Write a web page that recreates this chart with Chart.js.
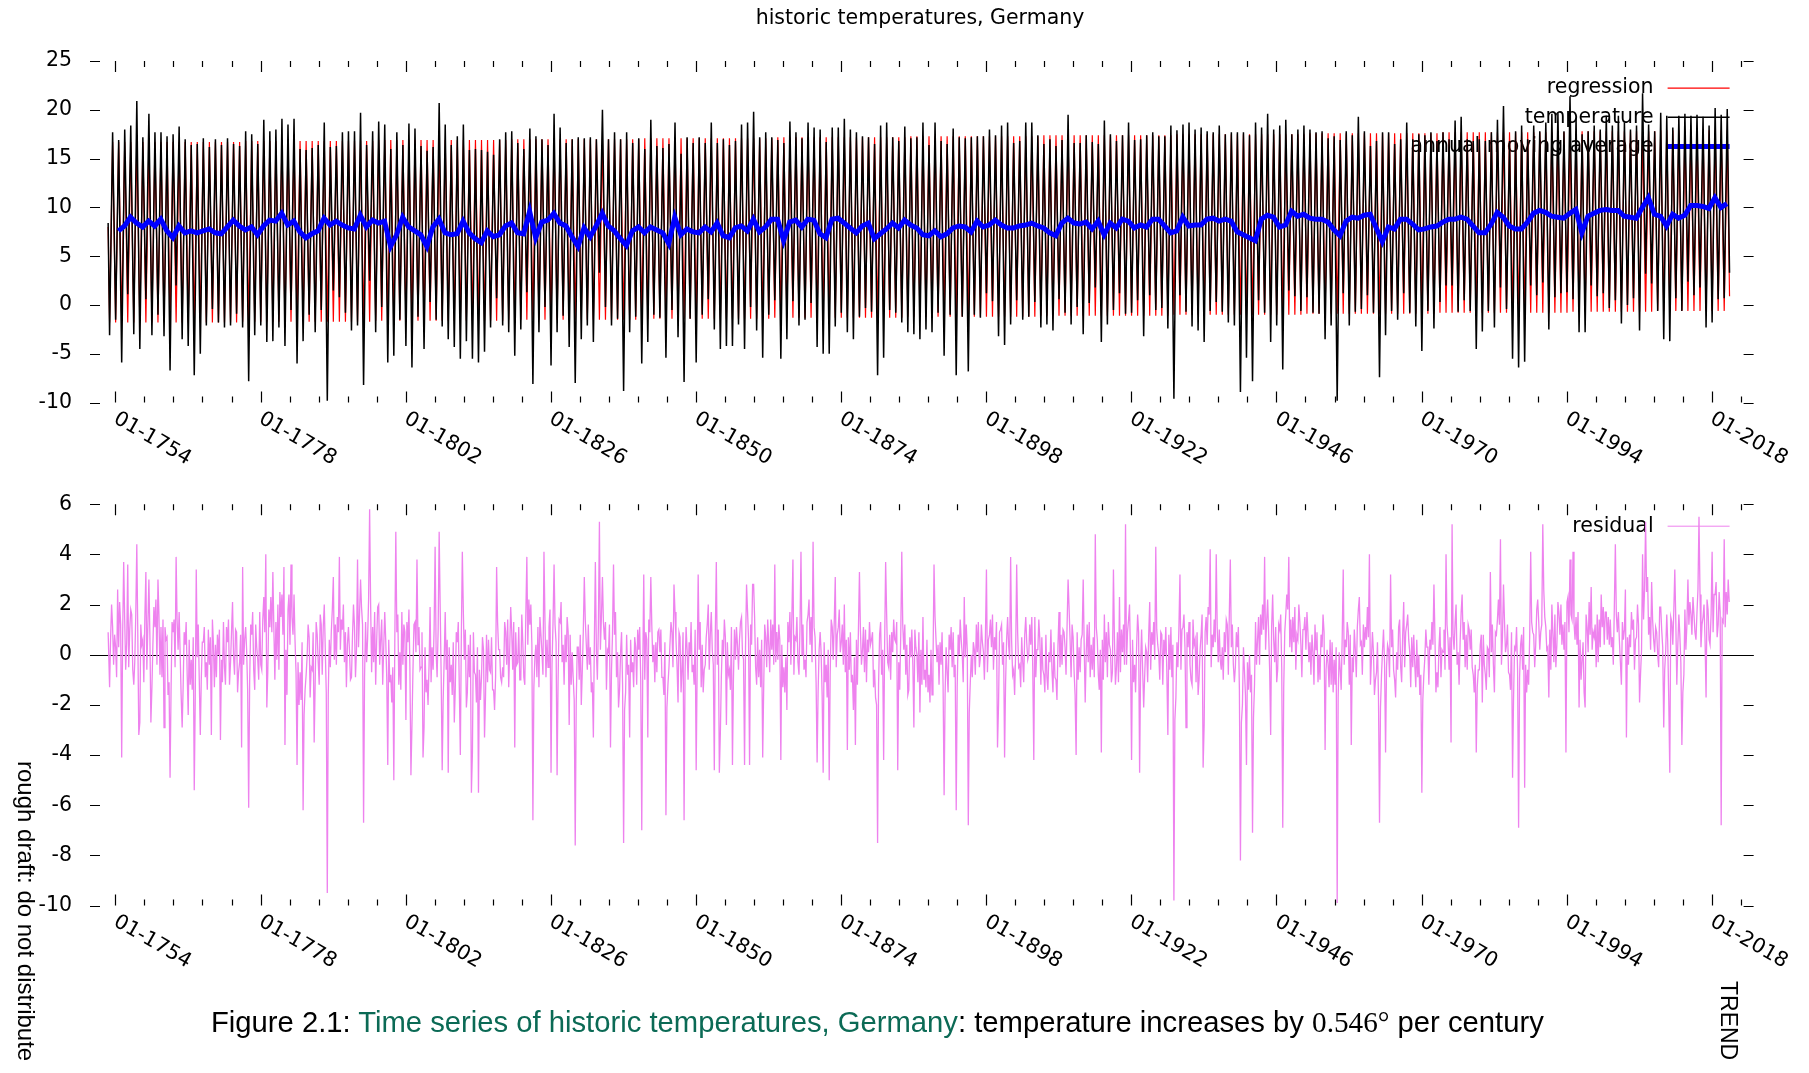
<!DOCTYPE html>
<html><head><meta charset="utf-8">
<script src="https://cdn.jsdelivr.net/npm/chart.js@4/dist/chart.umd.min.js"></script>
<style>
html,body{margin:0;padding:0;background:#fff;}
body{width:1809px;height:1073px;position:relative;overflow:hidden;}
canvas{position:absolute;left:0;top:0;}
.t{position:absolute;white-space:nowrap;color:#000;z-index:5;}
</style></head><body>
<canvas id="top" width="1809" height="1073"></canvas>
<canvas id="bottom" width="1809" height="1073"></canvas>
<div class="t" style="font:20.5px 'DejaVu Sans';left:0;width:1840px;text-align:center;top:5px;line-height:24px">historic temperatures, Germany</div>
<div id="caption" class="t" style="font-family:'Liberation Sans';font-size:26px;line-height:1.15;left:211px;top:1008px">Figure 2.1: <span style="color:#0b6a55">Time series of historic temperatures, Germany</span>: temperature increases by <span style="font-family:'Liberation Serif'">0.546°</span> per century</div>
<div class="t" style="font:24px 'Liberation Sans';line-height:28px;left:40px;top:761px;transform:rotate(90deg);transform-origin:0 0">rough draft: do not distribute</div>
<div class="t" style="font:23px 'Liberation Sans';line-height:27px;left:1742px;top:981px;transform:rotate(90deg);transform-origin:0 0">TREND</div>
<script>
// ---------------- data ----------------
const firstYear = 1753;
// winter (January) low of the monthly temperature, one per year 1753..2020
const winterLow = [
-3.1,-1.5,-5.9,1.1,-3.0,-4.5,0.6,-3.1,-1.0,-3.2,
-6.7,2.0,-3.5,-4.2,-7.2,-5.0,-2.1,-0.4,-1.8,-2.3,
-2.1,-0.9,-2.3,-7.8,-3.1,-2.1,-3.8,-3.7,-2.3,-4.2,
-0.5,-6.0,-3.7,-1.0,-2.8,-0.5,-9.8,1.5,0.8,-0.8,
-2.6,-2.1,-8.2,2.5,-2.8,-0.2,-5.9,-5.2,-1.5,-4.2,
-6.4,-1.2,-4.5,0.3,-1.5,-2.2,-3.5,-4.3,-5.5,-3.7,
-5.5,-5.9,-4.8,-2.3,0.7,-2.1,-2.8,-5.2,-2.5,1.3,
-8.1,-2.8,-0.2,-6.2,-2.8,-1.1,-4.3,-8.0,-3.5,-2.1,
-3.8,3.3,-0.2,-2.1,-1.4,-8.8,-2.8,-1.2,-6.0,-3.8,
-1.0,-1.3,-5.4,-0.5,-3.3,-7.9,-1.4,-5.9,-1.0,0.6,
-2.5,-4.5,-4.2,-4.2,-2.0,-4.5,-0.2,-2.6,-5.4,-1.0,
0.5,-5.5,-3.5,0.4,-2.1,-1.5,0.2,-4.3,-5.0,-5.0,
-2.2,-0.8,-2.8,-3.5,-1.2,-0.3,-0.7,-7.2,-5.4,-0.5,
-0.8,-1.8,-2.8,-3.0,-3.5,-2.5,-2.8,-0.8,-5.2,-1.0,
-7.2,-1.2,-6.8,-1.0,-1.3,1.2,0.4,-3.2,-4.1,-2.0,
0.5,-1.5,-1.2,0.3,-2.3,-2.0,-2.6,0.6,-0.8,-2.0,
-0.2,-3.0,0.2,1.8,-3.8,-2.0,-0.5,1.2,-0.9,-0.8,
0.5,-3.2,1.0,-0.5,-0.3,-2.4,-9.6,1.0,-0.7,-2.2,
-2.6,-3.8,-0.6,0.3,-0.7,-1.8,-2.1,-8.9,-5.4,-7.8,
0.5,-0.8,-3.8,-2.1,-6.6,1.5,0.9,-0.6,0.8,-0.8,
-0.9,-3.5,-2.1,-9.8,1.2,-2.1,-0.7,-0.4,1.0,-0.8,
-7.4,-3.1,-0.6,-1.5,1.2,-0.8,-2.2,-4.7,-0.6,-2.4,
0.3,2.0,2.0,-0.7,0.5,-0.6,-4.5,-2.7,-0.6,-2.3,
1.8,-0.4,-5.5,-6.4,-5.8,2.0,1.0,2.3,-2.5,0.8,
1.2,1.3,0.6,-2.8,-2.8,2.0,0.9,1.2,-0.3,0.5,
-1.9,0.0,0.7,-2.6,3.2,2.2,-0.6,-3.5,-3.7,0.7,
-0.6,2.4,1.0,1.8,-2.3,-1.8,0.6,0.7
];
// summer (July) high of the monthly temperature, one per year 1753..2020
const summerHigh = [
17.7,16.9,18.0,18.4,20.9,17.2,19.6,17.7,17.7,17.3,
17.5,18.3,17.0,16.4,16.5,17.1,16.2,17.0,16.4,17.1,
16.5,16.3,17.8,17.5,16.5,19.0,17.8,18.0,19.1,18.5,
19.1,16.0,15.9,16.1,16.4,18.7,16.2,16.3,17.7,17.8,
17.8,19.7,16.4,17.8,18.8,18.5,16.0,17.7,16.4,18.6,
18.1,16.3,15.8,16.2,20.7,18.5,16.4,17.3,18.5,15.9,
16.0,15.9,15.7,15.4,17.0,17.7,17.8,16.6,16.0,18.1,
17.3,17.0,16.4,19.6,18.2,16.6,17.0,17.2,17.1,17.2,
17.0,20.0,17.0,17.7,17.0,17.7,16.6,17.1,16.0,19.0,
16.3,16.1,16.5,18.7,15.5,17.2,16.6,17.2,16.6,18.7,
16.6,17.0,16.4,16.8,18.5,18.7,19.8,17.2,17.7,17.2,
16.9,16.6,18.8,17.7,17.1,18.7,18.2,18.0,16.7,18.2,
18.2,19.1,18.0,17.7,17.3,17.2,16.5,18.4,18.7,17.2,
16.8,18.3,17.1,17.2,18.7,16.4,18.7,16.8,16.5,18.1,
17.2,17.1,17.2,17.3,17.3,18.0,17.4,18.4,18.7,16.6,
16.8,18.7,18.7,17.4,16.5,17.0,16.3,16.9,19.5,16.6,
16.6,17.4,16.7,16.5,18.9,17.5,16.8,17.4,18.7,16.9,
17.0,17.4,17.7,17.3,17.3,18.4,17.9,18.5,18.7,18.0,
18.2,17.8,17.7,18.4,17.5,17.7,17.7,17.7,17.4,18.7,
18.2,19.6,18.0,18.4,19.0,17.5,18.0,18.4,18.0,17.7,
17.8,17.1,17.3,16.9,17.8,17.4,19.3,17.8,16.3,16.8,
17.7,17.7,16.5,17.0,18.7,17.0,17.5,17.4,17.7,16.8,
17.7,17.0,18.9,19.3,17.0,16.8,17.0,16.8,17.7,19.0,
20.4,16.8,17.8,18.4,17.0,18.4,17.8,18.7,19.6,19.7,
17.8,21.4,19.2,17.5,17.8,18.4,18.0,19.4,18.4,19.4,
18.7,18.0,18.4,21.7,18.5,17.8,19.7,19.4,18.2,19.4,
19.6,19.4,19.5,19.3,18.4,20.2,19.5,20.1
];
// seasonal regression: January value per year 1753..2020
const regressionJan = [
-1.8,-1.8,-1.8,-1.8,-1.8,-1.8,-1.8,-1.8,-1.8,-1.8,-1.8,-1.8,-1.8,-1.8,-1.8,-1.8,-1.8,-1.8,-1.8,-1.8,-1.8,-1.8,
-1.7,-1.7,-1.7,-1.7,-1.7,-1.7,-1.7,-1.7,-1.7,-1.7,-1.7,-1.7,-1.7,-1.7,-1.7,-1.7,-1.7,-1.7,-1.7,-1.7,-1.7,-1.7,
-1.6,-1.6,-1.6,-1.6,-1.6,-1.6,-1.6,-1.6,-1.6,-1.6,-1.6,-1.6,-1.6,-1.6,-1.6,-1.6,-1.6,-1.6,-1.6,-1.6,-1.6,-1.6,
-1.5,-1.5,-1.5,-1.5,-1.5,-1.5,-1.5,-1.5,-1.5,-1.5,-1.5,-1.5,-1.5,-1.5,-1.5,-1.5,-1.5,-1.5,-1.5,-1.5,-1.5,-1.5,
-1.4,-1.4,-1.4,-1.4,-1.4,-1.4,-1.4,-1.4,-1.4,-1.4,-1.4,-1.4,-1.4,-1.4,-1.4,-1.4,-1.4,-1.4,-1.4,-1.4,-1.4,-1.4,
-1.3,-1.3,-1.3,-1.3,-1.3,-1.3,-1.3,-1.3,-1.3,-1.3,-1.3,-1.3,-1.3,-1.3,-1.3,-1.3,-1.3,-1.3,-1.3,-1.3,-1.3,-1.3,
-1.2,-1.2,-1.2,-1.2,-1.2,-1.2,-1.2,-1.2,-1.2,-1.2,-1.2,-1.2,-1.2,-1.2,-1.2,-1.2,-1.2,-1.2,-1.2,-1.2,-1.2,-1.2,
-1.1,-1.1,-1.1,-1.1,-1.1,-1.1,-1.1,-1.1,-1.1,-1.1,-1.1,-1.1,-1.1,-1.1,-1.1,-1.1,-1.1,-1.1,-1.1,-1.1,-1.1,-1.1,
-1.0,-1.0,-1.0,-1.0,-1.0,-1.0,-1.0,-1.0,-1.0,-1.0,-1.0,-1.0,-1.0,-1.0,-1.0,-1.0,-1.0,-1.0,-1.0,-1.0,-1.0,-1.0,
-0.9,-0.9,-0.9,-0.9,-0.9,-0.9,-0.9,-0.9,-0.9,-0.9,-0.9,-0.9,-0.9,-0.9,-0.9,-0.9,-0.9,-0.9,-0.9,-0.9,-0.9,-0.9,
-0.8,-0.8,-0.8,-0.8,-0.8,-0.8,-0.8,-0.8,-0.8,-0.8,-0.8,-0.8,-0.8,-0.8,-0.8,-0.8,-0.8,-0.8,-0.8,-0.8,-0.8,-0.8,
-0.7,-0.7,-0.7,-0.7,-0.7,-0.7,-0.7,-0.7,-0.7,-0.7,-0.7,-0.7,-0.7,-0.7,
-0.6,-0.6,-0.6,-0.6,-0.6,-0.6,-0.6,-0.6,-0.6,-0.6,-0.6,-0.6
];
// seasonal regression: July value per year 1753..2020
const regressionJul = [
16.7,16.7,16.7,16.7,16.7,16.7,16.7,16.7,16.7,16.7,16.7,16.7,16.7,16.7,16.7,16.7,16.7,16.7,16.7,16.7,16.7,16.7,
16.8,16.8,16.8,16.8,16.8,16.8,16.8,16.8,16.8,16.8,16.8,16.8,16.8,16.8,16.8,16.8,16.8,16.8,16.8,16.8,16.8,16.8,
16.9,16.9,16.9,16.9,16.9,16.9,16.9,16.9,16.9,16.9,16.9,16.9,16.9,16.9,16.9,16.9,16.9,16.9,16.9,16.9,16.9,16.9,
17.0,17.0,17.0,17.0,17.0,17.0,17.0,17.0,17.0,17.0,17.0,17.0,17.0,17.0,17.0,17.0,17.0,17.0,17.0,17.0,17.0,17.0,
17.1,17.1,17.1,17.1,17.1,17.1,17.1,17.1,17.1,17.1,17.1,17.1,17.1,17.1,17.1,17.1,17.1,17.1,17.1,17.1,17.1,17.1,
17.2,17.2,17.2,17.2,17.2,17.2,17.2,17.2,17.2,17.2,17.2,17.2,17.2,17.2,17.2,17.2,17.2,17.2,17.2,17.2,17.2,17.2,
17.3,17.3,17.3,17.3,17.3,17.3,17.3,17.3,17.3,17.3,17.3,17.3,17.3,17.3,17.3,17.3,17.3,17.3,17.3,17.3,17.3,17.3,
17.4,17.4,17.4,17.4,17.4,17.4,17.4,17.4,17.4,17.4,17.4,17.4,17.4,17.4,17.4,17.4,17.4,17.4,17.4,17.4,17.4,17.4,
17.5,17.5,17.5,17.5,17.5,17.5,17.5,17.5,17.5,17.5,17.5,17.5,17.5,17.5,17.5,17.5,17.5,17.5,17.5,17.5,17.5,17.5,
17.6,17.6,17.6,17.6,17.6,17.6,17.6,17.6,17.6,17.6,17.6,17.6,17.6,17.6,17.6,17.6,17.6,17.6,17.6,17.6,17.6,17.6,
17.7,17.7,17.7,17.7,17.7,17.7,17.7,17.7,17.7,17.7,17.7,17.7,17.7,17.7,17.7,17.7,17.7,17.7,17.7,17.7,17.7,17.7,
17.8,17.8,17.8,17.8,17.8,17.8,17.8,17.8,17.8,17.8,17.8,17.8,17.8,17.8,
17.9,17.9,17.9,17.9,17.9,17.9,17.9,17.9,17.9,17.9,17.9,17.9
];
// annual moving average, one per year 1754..2020 (mid-year)
const avgFirstYear = 1754;
const movingAverage = [
7.6,8.1,9.0,8.4,8.0,8.6,8.1,8.8,7.6,6.9,
8.1,7.4,7.6,7.4,7.6,7.8,7.4,7.3,8.0,8.7,
8.1,7.7,8.0,7.2,8.1,8.7,8.6,9.4,8.2,8.6,
7.5,6.9,7.3,7.6,8.9,8.2,8.6,8.2,7.9,7.8,
9.2,8.0,8.7,8.4,8.6,6.0,7.2,9.0,8.0,7.6,
7.2,6.0,8.0,8.8,7.4,7.2,7.3,8.6,7.4,6.8,
6.4,7.6,7.0,7.2,8.1,8.4,7.4,7.3,9.6,6.9,
8.5,8.7,9.4,8.4,8.1,7.0,6.0,7.9,7.0,8.1,
9.4,8.1,7.6,6.8,6.1,7.6,8.0,7.4,8.0,7.7,
7.4,6.3,9.0,7.2,7.8,7.5,7.4,8.0,7.5,8.4,
7.1,6.9,7.9,8.1,7.6,8.8,7.5,8.0,8.8,8.8,
6.6,8.5,8.7,8.0,8.8,8.7,7.3,6.9,8.8,8.9,
8.4,7.9,7.4,8.1,8.4,6.8,7.3,7.8,8.4,7.9,
8.7,8.2,7.9,7.2,7.1,7.6,7.0,7.3,7.9,8.1,
8.0,7.5,8.6,8.0,8.2,8.7,8.2,7.9,7.9,8.1,
8.2,8.4,8.1,7.9,7.4,7.1,8.4,8.9,8.4,8.3,
8.5,7.8,8.6,7.2,8.4,7.9,8.8,8.6,7.9,8.2,
8.0,8.8,8.8,8.1,7.4,7.6,9.0,8.1,8.2,8.2,
8.8,8.9,8.6,8.8,8.6,7.5,7.2,6.9,6.6,8.8,
9.2,9.0,8.0,8.2,9.6,9.1,9.3,8.9,8.8,8.8,
8.5,7.7,7.1,8.6,9.0,8.9,9.2,9.3,7.9,6.5,
8.0,7.8,8.8,8.8,8.3,7.7,7.8,8.0,8.1,8.5,
8.8,8.8,9.0,8.8,8.1,7.4,7.4,8.3,9.5,9.0,
8.1,7.8,7.8,8.5,9.4,9.7,9.5,9.1,9.0,8.9,
9.4,9.8,7.4,9.1,9.4,9.7,9.8,9.7,9.7,9.1,
9.0,8.9,10.0,11.0,9.3,9.1,8.1,9.3,8.9,9.2,
10.2,10.2,10.1,9.9,11.0,10.0,10.4
];
// residual (temperature minus regression), per year [Jan, May, Jul, Nov], 1753..2020
const residual = [
[-1.3,2.0,1.1,0.8],[0.3,2.6,0.3,1.2],[-4.1,3.7,1.4,0.5],[3.6,1.0,1.8,-0.6],[-1.2,1.6,4.4,-3.2],
[-2.7,0.4,0.6,1.5],[3.3,1.2,3.0,-2.7],[-1.3,1.9,1.1,-0.4],[3.0,-0.8,1.1,1.4],[-2.9,0.6,0.7,-1.1],
[-4.9,1.3,0.9,-0.5],[3.9,0.2,1.7,-1.6],[-2.9,0.9,0.4,-0.8],[-2.4,-1.2,-0.2,0.7],[-5.4,3.4,-0.1,-1.0],
[-3.2,0.5,0.5,-0.9],[-0.3,1.0,-0.4,-3.2],[1.4,-1.3,0.4,0.8],[0.0,-3.4,-0.2,1.3],[-0.5,1.1,0.5,-1.2],
[-0.3,2.1,-0.1,1.0],[0.9,-0.7,-0.3,-3.7],[3.5,0.6,1.1,-1.4],[-6.1,1.2,0.8,-0.6],[-1.4,0.3,-0.2,1.7],
[-0.4,1.4,2.3,4.0],[-2.1,1.8,1.1,0.9],[3.3,-1.0,1.3,2.0],[-0.6,1.5,2.4,3.5],[-3.6,-1.6,1.8,0.4],
[3.6,0.8,2.4,-0.7],[-4.4,-2.0,-0.7,0.5],[-6.2,-1.4,-0.8,1.2],[0.7,-0.5,-0.6,-3.5],[-1.1,0.8,-0.3,1.6],
[1.2,1.1,2.0,-1.5],[-9.5,0.6,-0.5,1.8],[3.1,1.2,-0.4,0.9],[3.9,1.4,1.0,-0.3],[0.9,0.4,1.1,-1.0],
[-0.9,2.0,1.1,0.2],[3.8,1.6,3.0,1.2],[-6.7,1.3,-0.3,2.2],[5.8,-0.7,1.1,1.7],[-1.2,1.9,2.0,0.6],
[1.4,0.3,1.7,-0.9],[-4.4,-1.1,-0.8,-0.5],[-5.0,4.9,0.9,-1.2],[0.1,1.7,-0.4,0.9],[-2.6,0.5,1.8,-4.8],
[-2.8,1.2,1.3,3.8],[0.4,-0.6,-0.5,-4.1],[-2.9,-1.5,-1.0,-0.4],[1.9,0.3,-0.6,4.3],[0.1,1.0,4.9,-0.8],
[-4.6,-0.2,1.7,0.6],[-4.7,-1.1,-0.4,0.5],[-2.7,0.9,0.5,-1.3],[-4.0,4.1,1.7,1.0],[-2.1,0.4,-0.9,-5.5],
[-3.9,-0.7,-0.8,0.3],[-5.5,-1.8,-0.9,0.2],[-3.3,0.8,-1.1,-0.6],[-0.7,-1.4,-1.4,-0.9],[3.5,0.2,0.2,-1.1],
[-0.5,1.3,0.9,1.4],[-1.3,1.9,0.9,1.3],[-3.7,-0.4,-0.3,-1.0],[-1.0,0.5,-0.9,1.6],[3.9,2.2,1.2,0.4],
[-6.6,-0.1,0.4,1.1],[-1.3,0.8,0.1,4.1],[1.3,0.6,-0.5,1.8],[-4.7,1.3,3.6,0.5],[-4.8,1.4,1.3,-0.3],
[0.4,0.8,-0.3,0.9],[-2.8,-1.2,0.1,-1.8],[-7.6,0.3,0.3,0.8],[-2.0,0.9,3.1,0.4],[-0.6,-0.4,0.3,-1.1],
[-3.3,3.7,0.1,1.2],[5.3,1.5,3.1,0.6],[1.3,0.2,0.1,-3.7],[-0.6,3.6,0.8,-0.9],[0.1,-1.4,0.1,-1.2],
[-7.5,-1.5,0.8,-0.4],[-3.3,-0.7,-0.3,0.7],[0.3,1.0,0.2,-1.0],[-7.0,3.2,-1.0,0.6],[-3.3,0.9,3.1,-0.3],
[0.4,0.5,-0.7,1.0],[0.1,-0.9,-0.9,0.5],[-6.4,-1.2,-0.5,1.3],[0.9,2.8,1.7,-0.4],[-1.9,0.7,-1.5,0.9],
[-6.6,1.1,0.2,0.5],[0.0,-0.7,-0.4,1.0],[-4.6,3.2,0.2,-1.3],[0.4,-0.6,-0.4,1.2],[2.0,0.8,1.7,-0.4],
[-4.6,3.7,-0.4,-4.7],[-3.1,0.6,0.0,0.7],[-2.8,-0.8,-0.6,1.1],[-4.4,1.0,-0.2,0.4],[-0.6,1.3,1.5,-0.2],
[-4.4,2.8,1.7,-4.4],[1.2,2.8,2.8,-0.5],[-1.2,-0.9,0.2,0.6],[-4.1,1.2,0.7,1.4],[0.4,1.4,0.2,-0.4],
[3.6,0.9,-0.2,0.6],[-4.2,-1.3,-0.5,-0.1],[-2.2,0.5,1.7,1.6],[3.8,0.7,0.6,-0.3],[-0.8,4.1,0.0,-0.6],
[-0.2,1.3,1.6,0.4],[1.5,4.5,1.1,-1.1],[-4.3,0.2,0.9,-1.6],[-4.7,-1.1,-0.4,0.2],[-5.0,1.4,1.1,1.3],
[3.1,0.8,1.1,0.1],[0.5,-0.4,2.0,0.6],[-3.8,-0.6,0.9,-0.8],[-2.2,-3.6,0.6,1.0],[3.3,-0.4,0.2,-0.7],
[1.0,0.6,0.1,0.4],[0.6,-1.3,-0.6,-2.0],[-7.5,0.8,1.3,0.2],[-4.2,3.7,1.6,-0.5],[0.8,0.9,0.1,0.6],
[0.5,-4.6,-0.3,0.8],[4.1,0.2,1.2,0.4],[-1.6,0.7,-0.1,-0.4],[-2.9,0.3,0.0,0.9],[-2.3,-1.2,1.5,-0.6],
[-1.3,-1.5,-0.8,0.2],[-1.6,3.6,1.5,-0.3],[0.4,0.5,-0.4,-1.2],[-5.6,0.3,-0.7,0.8],[0.2,-0.5,0.9,-0.4],
[-6.2,0.8,0.0,0.6],[0.0,2.3,-0.1,0.2],[-6.8,-1.1,0.0,0.5],[0.2,1.2,0.1,-0.5],[-0.1,0.5,0.1,0.7],
[3.4,0.6,0.8,0.3],[1.6,0.7,0.2,-3.7],[-2.0,1.0,1.2,0.5],[-4.1,0.6,1.5,-0.2],[3.9,-0.8,-0.6,0.1],
[3.6,-0.5,-0.4,0.7],[-0.3,0.8,1.5,-0.2],[0.0,0.4,1.5,-4.2],[1.5,0.2,0.2,0.6],[-1.2,-0.6,-0.8,0.8],
[-0.9,0.1,-0.3,-0.6],[-1.5,-0.9,-1.0,0.4],[1.7,0.8,-0.4,0.9],[0.3,1.1,3.0,0.6],[-0.9,0.7,-0.7,-4.0],
[0.9,0.3,-0.7,0.8],[3.0,-1.9,0.1,-0.3],[1.3,0.4,-0.6,-0.9],[4.8,0.6,-0.8,0.2],[-3.9,-1.0,1.6,0.9],
[-0.9,0.4,0.2,-0.7],[3.4,-1.2,-0.5,-1.1],[2.3,1.0,0.1,-0.4],[5.2,0.9,1.4,-0.2],[-4.2,-1.1,-0.4,0.3],
[1.6,-4.7,-0.3,-0.6],[-2.1,0.3,0.1,0.8],[2.1,0.9,0.4,-0.2],[4.3,0.4,0.0,0.9],[0.8,0.6,0.0,-0.7],
[-3.2,-0.6,1.1,0.4],[-9.8,-1.7,0.5,1.1],[3.2,1.0,1.1,0.3],[-2.9,0.3,1.3,-1.0],[-1.2,0.4,0.6,0.9],
[-1.6,0.2,0.8,-4.5],[-2.8,1.5,0.4,1.6],[4.2,0.8,0.3,0.5],[4.0,-0.3,1.0,-0.6],[0.3,0.9,0.1,1.2],
[-0.8,3.8,0.3,-0.4],[-1.1,0.9,0.3,-1.4],[-8.2,-2.0,0.3,-1.6],[-4.4,-1.4,0.0,-0.8],[-7.1,-1.2,1.3,0.6],
[1.5,1.6,0.8,1.0],[3.9,1.3,2.2,-0.6],[-3.2,2.4,0.6,1.1],[-1.1,1.2,1.0,-0.5],[-6.9,0.9,1.6,1.8],
[3.9,1.4,0.1,0.5],[1.9,0.8,0.6,1.3],[0.4,1.0,1.0,0.2],[1.7,-0.3,0.5,0.8],[0.1,1.2,0.2,-1.1],
[0.0,0.8,0.3,0.9],[-3.8,0.2,-0.4,0.6],[-1.2,-1.5,-0.2,0.3],[-9.9,0.1,-0.6,0.7],[3.4,0.6,0.3,0.9],
[-1.2,-3.6,-0.1,1.0],[0.2,1.1,1.8,0.4],[0.5,1.2,0.3,0.6],[1.9,4.0,-1.2,0.9],[0.1,-1.0,-0.7,-1.7],
[-6.7,-0.8,0.2,-0.3],[-3.9,0.4,0.2,3.2],[0.3,-0.6,-1.0,0.1],[-0.6,1.4,-0.5,0.8],[2.1,0.9,1.2,0.6],
[0.1,0.7,-0.5,-0.4],[-1.3,-0.9,0.0,-0.8],[-5.5,-0.8,-0.1,0.3],[0.3,0.6,0.2,0.4],[2.8,-1.5,-0.7,0.3],
[1.1,0.2,0.1,-0.6],[4.0,0.6,-0.6,-3.5],[5.2,0.2,1.3,-0.4],[0.1,0.5,1.7,0.6],[1.3,0.8,-0.6,1.0],
[0.2,-0.5,-0.8,-0.4],[-3.9,-0.6,-0.6,0.8],[-1.9,-0.4,-0.8,0.3],[0.2,3.3,0.1,-0.4],[-1.5,0.8,1.4,1.2],
[4.6,0.7,2.8,0.1],[0.4,-0.7,-0.8,0.9],[-4.9,0.3,0.2,-0.6],[-6.9,0.4,0.8,1.1],[-5.3,-1.5,-0.6,0.7],
[4.1,0.9,0.8,0.4],[1.8,1.3,0.2,1.2],[5.2,1.5,1.1,0.3],[-1.7,-0.6,2.0,-0.3],[1.6,0.4,2.1,0.8],
[2.0,1.2,0.2,-3.9],[2.1,0.9,3.8,1.4],[4.1,0.6,1.5,1.7],[-2.1,-1.0,-0.2,-1.5],[-2.1,1.1,0.1,0.8],
[2.7,0.9,0.7,-0.5],[1.6,1.4,0.3,1.1],[1.9,1.7,1.7,1.5],[0.4,0.3,0.7,1.9],[4.4,0.9,1.7,-0.3],
[-1.2,0.6,1.0,-3.3],[0.7,0.8,0.3,1.0],[1.4,0.6,0.7,1.2],[-1.9,0.2,4.0,2.6],[5.3,3.1,0.8,0.2],
[2.9,0.6,0.1,0.9],[0.0,1.9,1.9,0.3],[-2.9,0.2,1.6,-1.8],[-4.7,1.3,0.4,3.4],[1.3,0.4,1.6,-0.3],
[-3.6,-0.8,1.8,1.2],[3.0,2.1,1.6,2.3],[1.6,0.6,1.7,5.5],[2.4,1.2,1.5,0.6],[-1.7,1.8,0.6,1.6],
[4.1,2.4,2.4,0.7],[1.2,1.7,-6.8,1.3],[4.6,2.5,1.6,2.1]
];
// residual, extra samples per year [Mar, Sep], 1753..2020
const residualMid = [
[0.6,-0.4],[-0.9,2.1],[0.8,-0.6],[-0.5,1.6],[-0.3,0.9],[1.2,-1.1],[-0.6,0.8],[0.4,2.2],[1.6,-0.9],[1.1,-1.6],
[-1.5,1.4],[1.4,0.1],[-1.3,1.3],[0.6,-1.4],[-1.9,1.2],[-1.0,1.1],[-1.4,0.7],[0.5,-0.9],[1.0,-1.1],[-1.2,1.4],
[0.9,-0.8],[-1.5,0.8],[-0.4,0.2],[-1.1,1.7],[1.2,-1.0],[-0.6,0.9],[-0.7,2.3],[1.1,-0.2],[2.5,0.8],[0.2,2.4],
[1.5,0.6],[-0.3,-1.8],[-2.4,-0.1],[-1.7,0.9],[1.3,-1.2],[-0.8,0.3],[-1.6,0.9],[-0.2,1.5],[0.2,2.0],[-1.3,0.2],
[0.7,-0.9],[0.3,1.9],[-0.9,0.6],[2.1,-0.3],[0.5,-0.4],[-1.2,0.6],[0.6,-1.9],[0.4,1.6],[-1.4,1.2],[1.3,-0.5],
[-0.7,0.1],[1.1,0.9],[0.3,-2.0],[-1.1,1.0],[-0.9,2.0],[-1.8,-0.6],[0.3,-1.6],[-1.4,1.3],[0.6,-0.2],[-1.5,0.8],
[0.9,-1.9],[-0.6,0.7],[-1.7,0.6],[0.7,-2.2],[1.3,-0.9],[-0.9,-0.4],[0.2,-0.6],[0.9,1.1],[1.6,-1.2],[0.4,2.0],
[-1.3,-0.9],[1.5,-0.8],[-0.9,1.1],[-0.4,1.2],[-1.1,2.1],[-1.2,1.5],[0.8,-0.9],[-2.0,-1.0],[-0.7,1.4],[1.2,-1.5],
[0.5,-1.0],[0.2,1.3],[-1.4,1.2],[0.8,1.7],[-2.1,0.9],[-2.2,-0.8],[0.6,-1.3],[-1.2,1.1],[-0.8,0.9],[1.4,1.2],
[-1.1,0.9],[1.0,-1.6],[-2.1,0.4],[-0.5,0.6],[0.9,-0.6],[-0.7,-1.0],[1.3,-1.2],[-0.6,1.3],[-1.5,0.7],[-0.6,0.2],
[0.8,1.0],[-0.9,1.4],[0.5,-1.4],[-1.0,1.1],[0.6,0.0],[0.3,0.6],[0.4,1.5],[0.7,-1.3],[-1.4,-0.5],[-0.7,1.2],
[-0.3,1.2],[0.4,-1.5],[1.3,-0.4],[-0.8,1.5],[1.0,1.2],[-0.9,2.2],[-0.3,0.7],[-1.5,0.1],[0.5,-1.7],[-0.8,-0.2],
[-0.5,1.8],[1.2,-0.7],[0.7,-1.1],[-0.1,-1.2],[1.0,1.1],[-1.1,1.3],[0.9,-1.7],[-1.2,-0.8],[0.3,-0.3],[-1.0,1.4],
[1.3,-1.4],[1.2,-0.8],[-1.4,1.0],[1.0,-1.1],[0.2,-1.0],[0.6,-1.9],[-0.4,0.6],[-1.2,0.9],[-1.6,-1.5],[1.1,-0.9],
[-1.3,1.4],[-1.1,1.2],[-2.3,-0.9],[-0.8,1.3],[1.2,-1.0],[-0.7,1.4],[-0.6,1.3],[0.9,-0.4],[-1.2,0.4],[0.6,-1.6],
[0.9,-1.3],[-1.1,0.5],[1.2,-0.6],[-0.9,1.4],[0.7,-1.5],[-1.4,1.0],[0.5,-1.8],[-0.5,1.0],[-0.8,1.9],[1.2,-1.6],
[-1.0,0.6],[0.4,1.2],[-0.9,0.7],[1.1,-1.4],[0.6,-0.3],[1.3,-1.1],[0.7,0.9],[-0.7,1.2],[-0.4,2.0],[0.6,-1.5],
[0.9,1.0],[-0.9,-1.1],[-0.6,1.3],[1.0,-1.0],[-1.2,1.1],[0.8,-0.9],[-2.6,-0.5],[-0.6,1.6],[0.9,-0.4],[1.4,-1.1],
[-1.0,1.6],[0.9,1.9],[-0.5,1.4],[1.1,-0.2],[-1.0,1.4],[1.6,1.2],[-0.5,1.1],[-2.7,-0.6],[-0.3,-1.5],[-2.5,-0.4],
[-0.4,2.0],[0.2,0.9],[1.1,-0.3],[-0.6,1.6],[-1.3,2.4],[0.3,1.5],[-0.6,2.0],[-0.9,1.5],[0.9,-0.8],[-1.2,0.9],
[-1.0,1.6],[-0.6,-1.3],[0.5,-1.2],[-1.7,-1.4],[-0.4,1.3],[0.8,-0.7],[-0.9,2.3],[-0.8,1.1],[0.7,-0.2],[-1.6,0.5],
[-2.1,1.0],[-0.5,-0.9],[1.0,-1.7],[1.1,-1.1],[-0.5,1.6],[-1.3,0.8],[0.6,-1.6],[-1.8,1.0],[-1.2,1.3],[0.8,-1.3],
[-0.9,1.0],[1.2,0.7],[0.8,2.0],[-1.2,2.4],[-0.5,1.2],[1.0,-1.5],[-1.3,0.4],[0.8,-1.4],[-0.9,1.2],[0.9,2.2],
[-0.4,1.4],[1.2,-1.4],[-1.8,1.1],[-0.9,-0.6],[-0.4,-1.2],[1.3,-0.5],[2.2,0.9],[2.6,0.2],[1.0,0.9],[-0.5,1.7],
[0.4,1.3],[2.3,1.6],[1.3,0.4],[0.6,0.5],[1.6,2.1],[0.2,1.2],[-0.3,2.4],[0.4,0.6],[1.4,-0.4],[1.6,0.6],
[1.3,2.6],[-0.4,1.7],[-0.6,2.0],[-0.8,1.4],[2.5,1.5],[1.4,1.1],[-0.5,1.0],[-0.6,0.5],[1.5,1.7],[-1.2,0.8],
[-1.5,0.2],[1.2,0.8],[0.9,2.6],[0.3,2.0],[2.2,0.4],[0.9,2.9],[2.5,1.4],[1.1,3.0]
];
// first and last observations outside the regular grid
const firstObs = { time: 1752.8, temperature: 8.4, regression: 8.0, residual: 0.9 };
const lastObs  = { time: 2020.92, temperature: 3.3, regression: 0.9 };
// sample times inside a year
const janJul = [0.04, 0.54];
const residualTimes = [0.04, 0.37, 0.54, 0.87];   // times of the residual rows
const residualMidTimes = [0.20, 0.70];            // times of residualMid rows
// axis ticks
const xMajorTicks = [1754,1778,1802,1826,1850,1874,1898,1922,1946,1970,1994,2018];
const xTickPrefix = '01-';
const topYTicks = { min: -10, max: 25, step: 5 };
const bottomYTicks = { min: -10, max: 6, step: 2 };
const xRange = { min: 1749.8, max: 2024.9 };

// ---------------- build point lists ----------------
const tempPts = [{x: firstObs.time, y: firstObs.temperature}];
const regPts = [{x: firstObs.time, y: firstObs.regression}];
winterLow.forEach((v, i) => {
  const yr = firstYear + i;
  tempPts.push({x: yr + janJul[0], y: v}, {x: yr + janJul[1], y: summerHigh[i]});
  regPts.push({x: yr + janJul[0], y: regressionJan[i]}, {x: yr + janJul[1], y: regressionJul[i]});
});
tempPts.push({x: lastObs.time, y: lastObs.temperature});
regPts.push({x: lastObs.time, y: lastObs.regression});
const avgPts = movingAverage.map((v, i) => ({x: avgFirstYear + i + 0.5, y: v}));
let resPts = [{x: firstObs.time, y: firstObs.residual}];
residual.forEach((row, i) => row.forEach((v, k) => resPts.push({x: firstYear + i + residualTimes[k], y: v})));
residualMid.forEach((row, i) => row.forEach((v, k) => resPts.push({x: firstYear + i + residualMidTimes[k], y: v})));
resPts.sort((p, q) => p.x - q.x);

// minor x ticks: 5 subdivisions of each 24-year interval
const xMinorTicks = [];
for (let i = 0; i < xMajorTicks.length; i++) {
  for (let k = 1; k < 5; k++) {
    const v = xMajorTicks[i] + k * 24 / 5;
    if (v < xRange.max) xMinorTicks.push(v);
  }
}

// ---------------- gnuplot-like frame plugin ----------------
const FONT = '20.5px "DejaVu Sans"';
const framePlugin = {
  id: 'gframe',
  beforeDatasetsDraw(chart, _a, o) {
    const ctx = chart.ctx, a = chart.chartArea, y = chart.scales.y;
    ctx.save();
    if (o.zeroLine) {
      const py = Math.round(y.getPixelForValue(0)) + 0.5;
      ctx.strokeStyle = '#000'; ctx.lineWidth = 1;
      ctx.beginPath(); ctx.moveTo(a.left, py); ctx.lineTo(a.right, py); ctx.stroke();
    }
    ctx.font = FONT; ctx.fillStyle = '#000'; ctx.textAlign = 'right'; ctx.textBaseline = 'middle';
    o.legend.forEach((idx, i) => {
      const ds = chart.data.datasets[idx];
      const ly = a.top + o.legendTop + i * o.legendStep;
      ctx.fillText(ds.label, a.right - 100, ly);
      ctx.strokeStyle = ds.borderColor; ctx.lineWidth = ds.legendWidth || ds.borderWidth;
      ctx.beginPath(); ctx.moveTo(a.right - 86, ly); ctx.lineTo(a.right - 24, ly); ctx.stroke();
    });
    ctx.restore();
  },
  afterDraw(chart) {
    const ctx = chart.ctx, a = chart.chartArea, x = chart.scales.x, y = chart.scales.y;
    ctx.save();
    ctx.strokeStyle = '#000'; ctx.lineWidth = 1.2;
    ctx.beginPath();
    xMajorTicks.forEach(v => {
      const px = Math.round(x.getPixelForValue(v)) + 0.5;
      ctx.moveTo(px, a.bottom); ctx.lineTo(px, a.bottom - 11);
      ctx.moveTo(px, a.top); ctx.lineTo(px, a.top + 11);
    });
    xMinorTicks.forEach(v => {
      const px = Math.round(x.getPixelForValue(v)) + 0.5;
      ctx.moveTo(px, a.bottom); ctx.lineTo(px, a.bottom - 6);
      ctx.moveTo(px, a.top); ctx.lineTo(px, a.top + 6);
    });
    y.ticks.forEach(t => {
      const py = Math.round(y.getPixelForValue(t.value)) + 0.5;
      ctx.moveTo(a.left, py); ctx.lineTo(a.left + 10, py);
      ctx.moveTo(a.right, py); ctx.lineTo(a.right - 10, py);
    });
    ctx.stroke();
    ctx.font = FONT; ctx.fillStyle = '#000'; ctx.textAlign = 'left'; ctx.textBaseline = 'top';
    xMajorTicks.forEach(v => {
      const px = x.getPixelForValue(v);
      ctx.save();
      ctx.translate(px + 5, a.bottom + 6);
      ctx.rotate(30 * Math.PI / 180);
      ctx.fillText(xTickPrefix + v, 0, 0);
      ctx.restore();
    });
    ctx.restore();
  }
};

Chart.defaults.font.family = 'DejaVu Sans';
Chart.defaults.color = '#000';

function makeChart(id, datasets, yt, area, pluginOpts) {
  return new Chart(document.getElementById(id), {
    type: 'line',
    data: { datasets },
    options: {
      responsive: false, animation: false, devicePixelRatio: 1,
      layout: { autoPadding: false, padding: { left: 0, top: area.top, right: 1809 - area.right, bottom: 0 } },
      elements: { point: { radius: 0 }, line: { tension: 0, fill: false } },
      plugins: { legend: { display: false }, tooltip: { enabled: false }, title: { display: false }, gframe: pluginOpts },
      scales: {
        x: { type: 'linear', min: xRange.min, max: xRange.max,
             ticks: { display: false }, grid: { display: false, drawTicks: false }, border: { display: false },
             afterFit: s => { s.height = 1073 - area.bottom; } },
        y: { type: 'linear', min: yt.min, max: yt.max,
             ticks: { stepSize: yt.step, padding: 18, font: { size: 20.5, family: 'DejaVu Sans' }, color: '#000' },
             grid: { display: false, drawTicks: false, tickLength: 0 }, border: { display: false },
             afterFit: s => { s.width = area.left; } }
      }
    },
    plugins: [framePlugin]
  });
}

makeChart('top', [
  { label: 'annual moving average', data: avgPts, borderColor: '#0000ff', borderWidth: 5, order: 0 },
  { label: 'temperature', data: tempPts, borderColor: '#000000', borderWidth: 1.5, order: 1 },
  { label: 'regression', data: regPts, borderColor: '#ff0000', borderWidth: 1.2, order: 2 }
], topYTicks, { left: 90, right: 1753.6, top: 61.1, bottom: 402.6 },
  { legend: [2, 1, 0], legendTop: 27, legendStep: 29.2, zeroLine: false });

makeChart('bottom', [
  { label: 'residual', data: resPts, borderColor: '#ee82ee', borderWidth: 1.3, legendWidth: 1, order: 0 }
], bottomYTicks, { left: 90, right: 1753.6, top: 504.2, bottom: 905.6 },
  { legend: [0], legendTop: 22, legendStep: 29.2, zeroLine: true });

// fit caption width to the reference line length
const cap = document.getElementById('caption');
const w = cap.getBoundingClientRect().width;
const fs = 26 * 1333 / w;
cap.style.fontSize = fs + 'px';
cap.style.top = (1023 - fs * 0.575) + 'px';
</script>
</body></html>
